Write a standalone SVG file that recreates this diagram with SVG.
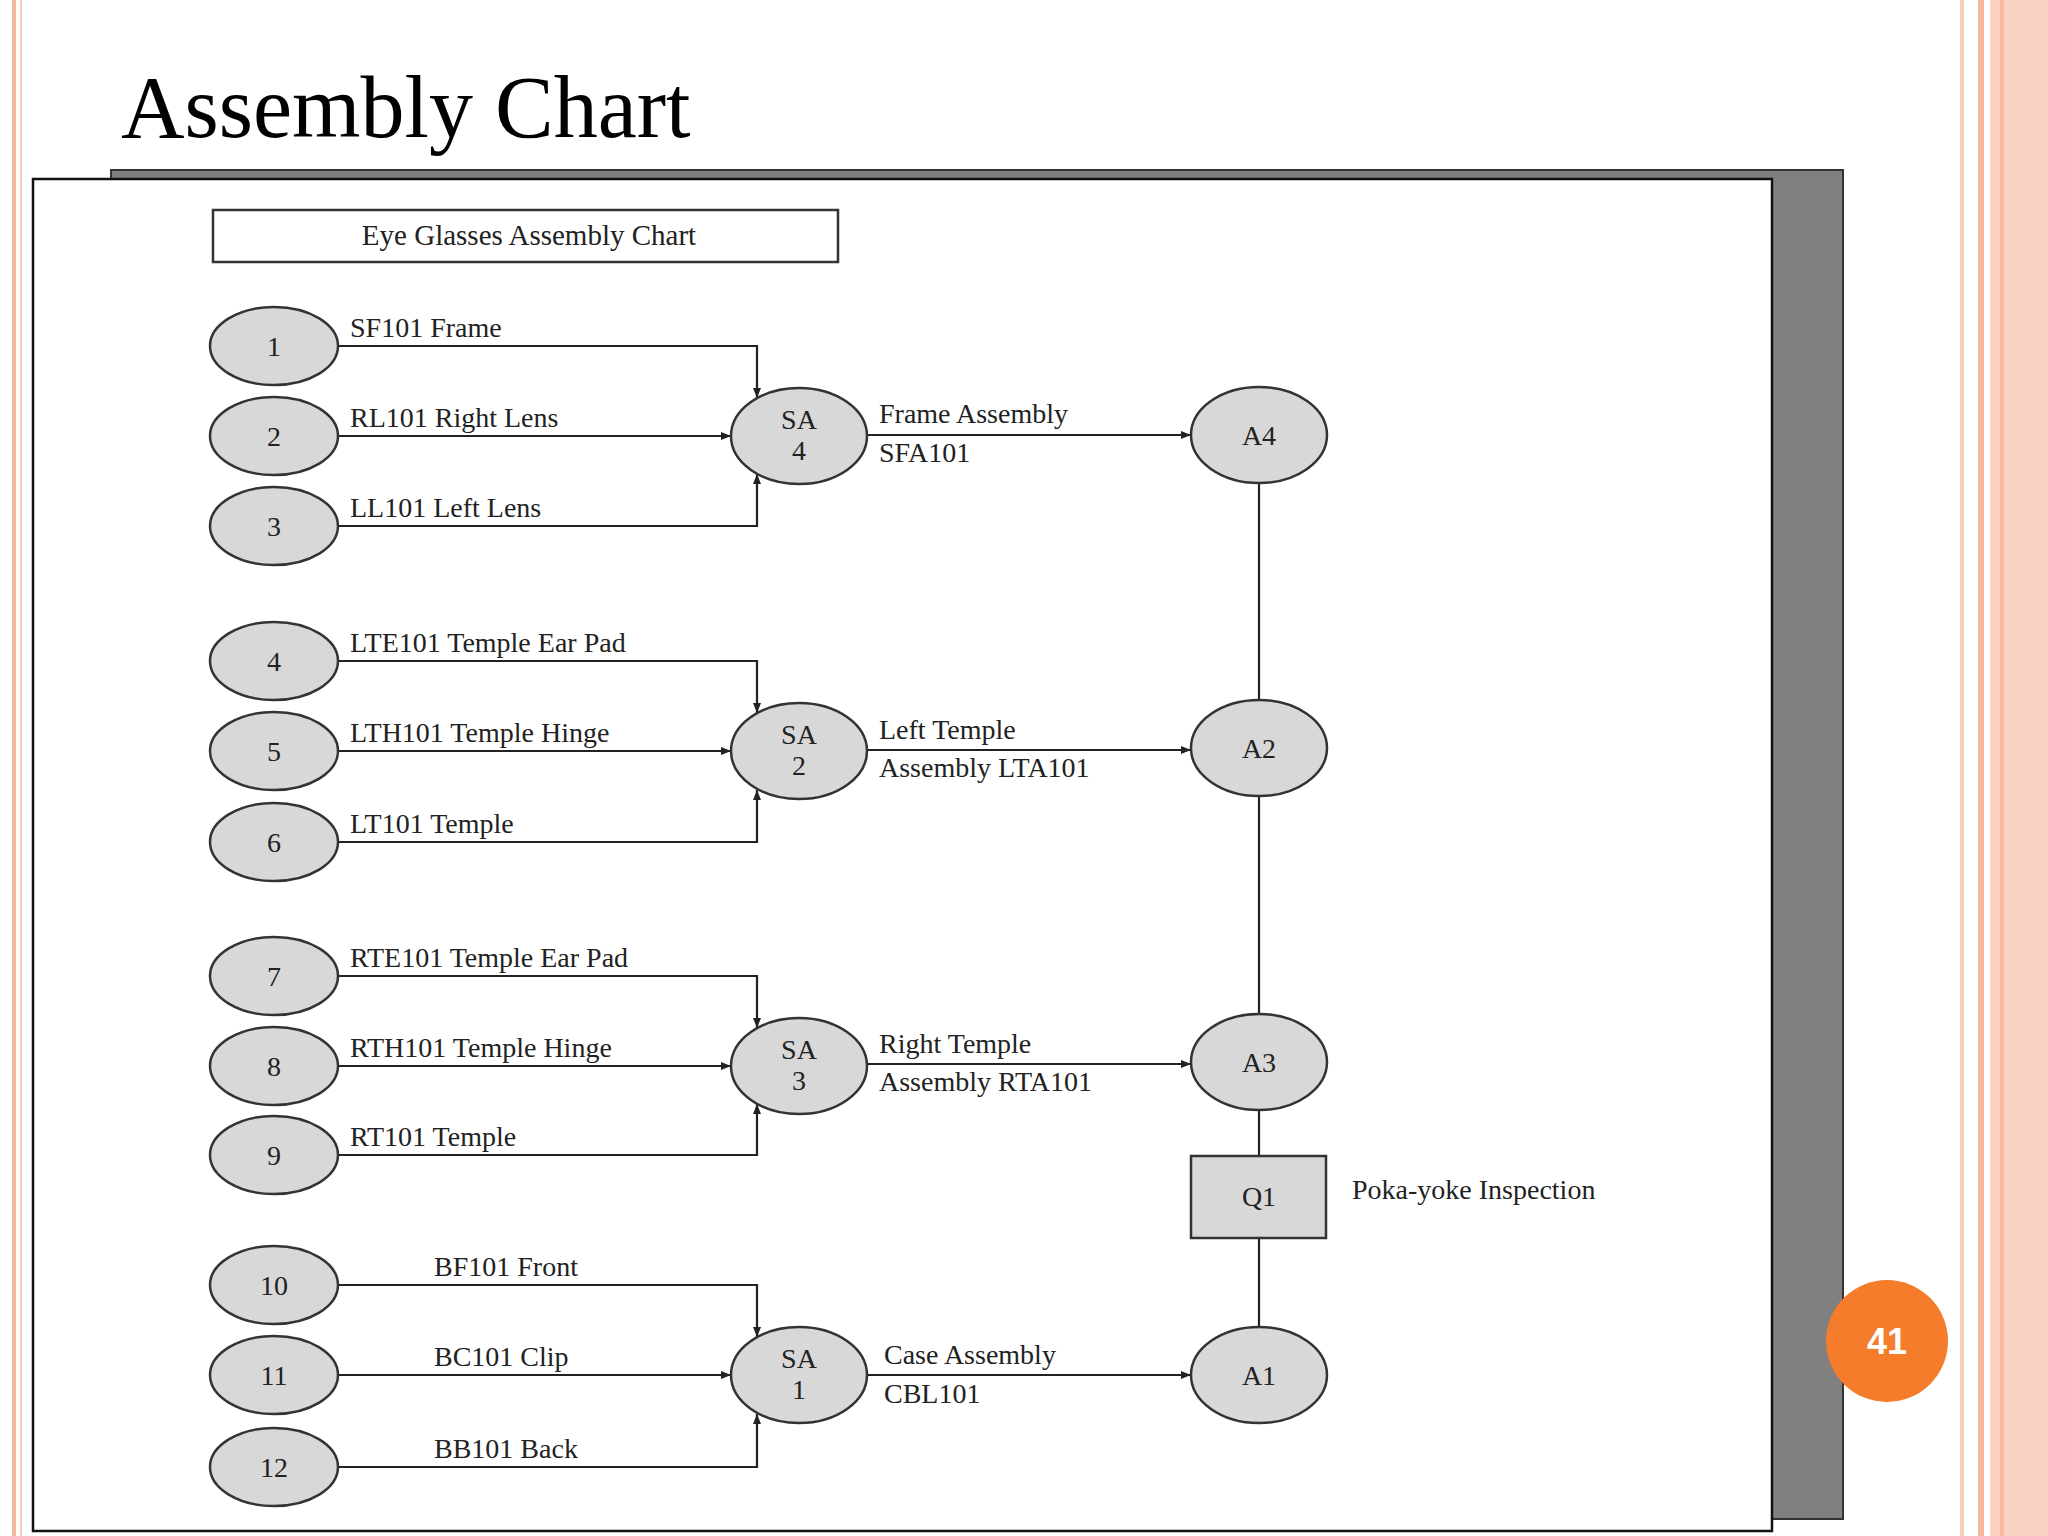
<svg xmlns="http://www.w3.org/2000/svg" width="2048" height="1536" viewBox="0 0 2048 1536">
<defs>
<marker id="ar" viewBox="0 0 10 10" refX="10" refY="5" markerWidth="10" markerHeight="10" markerUnits="userSpaceOnUse" orient="auto"><path d="M0,1 L10,5 L0,9 z" fill="#222"/></marker>
<style>
.n ellipse{fill:#d8d8d8;stroke:#333;stroke-width:2.5}
.t{font-family:"Liberation Serif",serif;fill:#222;font-size:28px}
.c{text-anchor:middle}
#conn path{fill:none;stroke:#222;stroke-width:2.2}
</style>
</defs>
<rect width="2048" height="1536" fill="#fff"/>
<rect x="12" y="0" width="4" height="1536" fill="#f6b9a0"/>
<rect x="20" y="0" width="2" height="1536" fill="#f9cdbb"/>
<rect x="1960" y="0" width="4" height="1536" fill="#f9cdbb"/>
<rect x="1978" y="0" width="6" height="1536" fill="#f6b9a0"/>
<rect x="1990" y="0" width="58" height="1536" fill="#fbd3c2"/>
<rect x="2000" y="0" width="4" height="1536" fill="#f6b9a0"/>
<text x="121" y="137" style="font-family:'Liberation Serif',serif;font-size:88px;fill:#000">Assembly Chart</text>
<rect x="111" y="170" width="1732" height="1349" fill="#808080" stroke="#333" stroke-width="2"/>
<rect x="33" y="179" width="1739" height="1352" fill="#fff" stroke="#111" stroke-width="2.5"/>
<g id="title"><rect x="213" y="210" width="625" height="52" fill="#fff" stroke="#333" stroke-width="2.5"/><text class="t c" x="529" y="245" style="font-size:29px">Eye Glasses Assembly Chart</text></g>
<g id="conn">
<path d="M338,346 H757 V398" marker-end="url(#ar)"/><path d="M338,436 H731" marker-end="url(#ar)"/><path d="M338,526 H757 V474" marker-end="url(#ar)"/>
<path d="M338,661 H757 V713" marker-end="url(#ar)"/><path d="M338,751 H731" marker-end="url(#ar)"/><path d="M338,842 H757 V790" marker-end="url(#ar)"/>
<path d="M338,976 H757 V1028" marker-end="url(#ar)"/><path d="M338,1066 H731" marker-end="url(#ar)"/><path d="M338,1155 H757 V1104" marker-end="url(#ar)"/>
<path d="M338,1285 H757 V1337" marker-end="url(#ar)"/><path d="M338,1375 H731" marker-end="url(#ar)"/><path d="M338,1467 H757 V1414" marker-end="url(#ar)"/>
<path d="M867,435 H1191" marker-end="url(#ar)"/><path d="M867,750 H1191" marker-end="url(#ar)"/><path d="M867,1064 H1191" marker-end="url(#ar)"/><path d="M867,1375 H1191" marker-end="url(#ar)"/>
<path d="M1259,483 V700 M1259,796 V1014 M1259,1110 V1156 M1259,1238 V1327"/>
</g>
<g class="t">
<text x="350" y="337">SF101 Frame</text><text x="350" y="427">RL101 Right Lens</text><text x="350" y="517">LL101 Left Lens</text>
<text x="350" y="652">LTE101 Temple Ear Pad</text><text x="350" y="742">LTH101 Temple Hinge</text><text x="350" y="833">LT101 Temple</text>
<text x="350" y="967">RTE101 Temple Ear Pad</text><text x="350" y="1057">RTH101 Temple Hinge</text><text x="350" y="1146">RT101 Temple</text>
<text x="434" y="1276">BF101 Front</text><text x="434" y="1366">BC101 Clip</text><text x="434" y="1458">BB101 Back</text>
<text x="879" y="423">Frame Assembly</text><text x="879" y="462">SFA101</text>
<text x="879" y="739">Left Temple</text><text x="879" y="777">Assembly LTA101</text>
<text x="879" y="1053">Right Temple</text><text x="879" y="1091">Assembly RTA101</text>
<text x="884" y="1364">Case Assembly</text><text x="884" y="1403">CBL101</text>
<text x="1352" y="1199">Poka-yoke Inspection</text>
</g>
<g id="n1" class="n"><ellipse cx="274" cy="346" rx="64" ry="39"/><text class="t c" x="274" y="356">1</text></g>
<g id="n2" class="n"><ellipse cx="274" cy="436" rx="64" ry="39"/><text class="t c" x="274" y="446">2</text></g>
<g id="n3" class="n"><ellipse cx="274" cy="526" rx="64" ry="39"/><text class="t c" x="274" y="536">3</text></g>
<g id="n4" class="n"><ellipse cx="274" cy="661" rx="64" ry="39"/><text class="t c" x="274" y="671">4</text></g>
<g id="n5" class="n"><ellipse cx="274" cy="751" rx="64" ry="39"/><text class="t c" x="274" y="761">5</text></g>
<g id="n6" class="n"><ellipse cx="274" cy="842" rx="64" ry="39"/><text class="t c" x="274" y="852">6</text></g>
<g id="n7" class="n"><ellipse cx="274" cy="976" rx="64" ry="39"/><text class="t c" x="274" y="986">7</text></g>
<g id="n8" class="n"><ellipse cx="274" cy="1066" rx="64" ry="39"/><text class="t c" x="274" y="1076">8</text></g>
<g id="n9" class="n"><ellipse cx="274" cy="1155" rx="64" ry="39"/><text class="t c" x="274" y="1165">9</text></g>
<g id="n10" class="n"><ellipse cx="274" cy="1285" rx="64" ry="39"/><text class="t c" x="274" y="1295">10</text></g>
<g id="n11" class="n"><ellipse cx="274" cy="1375" rx="64" ry="39"/><text class="t c" x="274" y="1385">11</text></g>
<g id="n12" class="n"><ellipse cx="274" cy="1467" rx="64" ry="39"/><text class="t c" x="274" y="1477">12</text></g>
<g id="sa4" class="n"><ellipse cx="799" cy="436" rx="68" ry="48"/><text class="t c" x="799" y="429">SA</text><text class="t c" x="799" y="460">4</text></g>
<g id="sa2" class="n"><ellipse cx="799" cy="751" rx="68" ry="48"/><text class="t c" x="799" y="744">SA</text><text class="t c" x="799" y="775">2</text></g>
<g id="sa3" class="n"><ellipse cx="799" cy="1066" rx="68" ry="48"/><text class="t c" x="799" y="1059">SA</text><text class="t c" x="799" y="1090">3</text></g>
<g id="sa1" class="n"><ellipse cx="799" cy="1375" rx="68" ry="48"/><text class="t c" x="799" y="1368">SA</text><text class="t c" x="799" y="1399">1</text></g>
<g id="a4" class="n"><ellipse cx="1259" cy="435" rx="68" ry="48"/><text class="t c" x="1259" y="445">A4</text></g>
<g id="a2" class="n"><ellipse cx="1259" cy="748" rx="68" ry="48"/><text class="t c" x="1259" y="758">A2</text></g>
<g id="a3" class="n"><ellipse cx="1259" cy="1062" rx="68" ry="48"/><text class="t c" x="1259" y="1072">A3</text></g>
<g id="a1" class="n"><ellipse cx="1259" cy="1375" rx="68" ry="48"/><text class="t c" x="1259" y="1385">A1</text></g>
<g id="q1"><rect x="1191" y="1156" width="135" height="82" fill="#d8d8d8" stroke="#333" stroke-width="2.5"/><text class="t c" x="1259" y="1206">Q1</text></g>
<g id="page"><circle cx="1887" cy="1341" r="61" fill="#f57c2b"/><text x="1887" y="1354" text-anchor="middle" style="font-family:'Liberation Sans',sans-serif;font-weight:bold;font-size:36px;fill:#fff">41</text></g>
</svg>
